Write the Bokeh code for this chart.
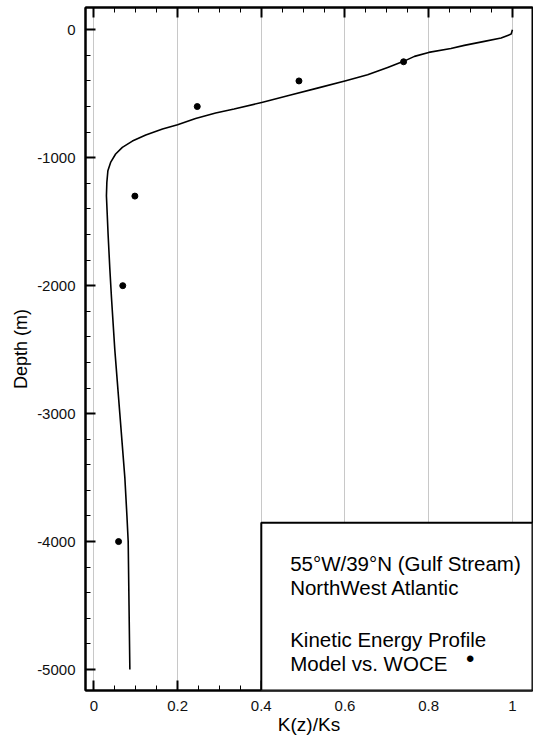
from bokeh.plotting import figure
from bokeh.models import (ColumnDataSource, LinearAxis, SingleIntervalTicker,
                          NumeralTickFormatter, BoxAnnotation, Label, Range1d,
                          CustomLabelingPolicy)
from bokeh.embed import file_html
from bokeh.resources import INLINE

# Model kinetic energy profile, normalised by the surface value
model_depth = [0, -34, -65, -91, -122, -146, -177, -208, -247, -294, -352, -398,
               -456, -510, -568, -620, -651, -693, -742, -776, -823, -870,
               -919, -971, -1037, -1102, -1193, -1297, -1600, -1860, -2090,
               -2500, -3000, -3500, -3800, -4000, -4500, -5000]
model_k = [1.0, 0.997, 0.973, 0.933, 0.885, 0.853, 0.80, 0.766, 0.74, 0.702,
           0.654, 0.602, 0.534, 0.47, 0.401, 0.335, 0.291, 0.243, 0.2, 0.164,
           0.124, 0.092, 0.068, 0.052, 0.040, 0.0335, 0.031, 0.030, 0.034,
           0.038, 0.042, 0.05, 0.062, 0.074, 0.079, 0.082, 0.084, 0.086]

# WOCE observations
woce_depth = [-250, -400, -600, -1300, -2000, -4000]
woce_k = [0.74, 0.49, 0.247, 0.098, 0.069, 0.059]

legend_lines = ["55°W/39°N (Gulf Stream)", "NorthWest Atlantic",
                "Kinetic Energy Profile", "Model vs. WOCE"]

FONT = "Liberation Sans"

xticker = SingleIntervalTicker(interval=0.2, num_minor_ticks=4)
yticker = SingleIntervalTicker(interval=1000, num_minor_ticks=5)

p = figure(width=533, height=745, output_backend="svg", toolbar_location=None,
           x_range=Range1d(-0.02, 1.048), y_range=Range1d(-5164, 174),
           x_axis_location=None, y_axis_location=None,
           min_border_left=85, min_border_right=1, min_border_top=7,
           min_border_bottom=55, background_fill_color="white",
           border_fill_color="white")

p.outline_line_color = "black"
p.outline_line_width = 2

bottom_axis = LinearAxis(ticker=xticker, axis_label="K(z)/Ks",
                         formatter=NumeralTickFormatter(format="0.[0]"))
left_axis = LinearAxis(ticker=yticker, axis_label="Depth (m)",
                       formatter=NumeralTickFormatter(format="0"))

# top axis carries tick marks only: the labeling policy drops every label
no_labels = CustomLabelingPolicy(code="""
    const all = [...indices]
    for (const i of all) indices.unset(i)
    return indices
""")
top_axis = LinearAxis(ticker=xticker, major_label_policy=no_labels,
                      major_label_standoff=0,
                      major_label_text_font_size="1px")
p.add_layout(bottom_axis, "below")
p.add_layout(left_axis, "left")
p.add_layout(top_axis, "above")

for ax in [bottom_axis, left_axis, top_axis]:
    ax.axis_line_color = "black"
    ax.axis_line_width = 2
    ax.major_tick_in = 10
    ax.major_tick_out = 0
    ax.minor_tick_in = 5
    ax.minor_tick_out = 0
    ax.major_tick_line_width = 2
    ax.minor_tick_line_width = 1
    ax.major_tick_line_color = "black"
    ax.minor_tick_line_color = "black"

for ax in [bottom_axis, left_axis]:
    ax.major_label_text_font = FONT
    ax.major_label_text_font_size = "15px"
    ax.major_label_text_color = "#111111"
    ax.major_label_standoff = 10
    ax.axis_label_text_font = FONT
    ax.axis_label_text_font_style = "normal"
    ax.axis_label_text_color = "black"

bottom_axis.axis_label_text_font_size = "19px"
left_axis.axis_label_text_font_size = "18px"
bottom_axis.axis_label_standoff = 0
left_axis.axis_label_standoff = 3

p.xgrid.ticker = xticker
p.xgrid.grid_line_color = "#c8c8c8"
p.xgrid.grid_line_width = 1
p.ygrid.grid_line_color = None

model_src = ColumnDataSource(dict(k=model_k, depth=model_depth))
woce_src = ColumnDataSource(dict(k=woce_k, depth=woce_depth))

p.line("k", "depth", source=model_src, line_color="black", line_width=1.6,
       line_join="round")
p.scatter("k", "depth", source=woce_src, size=6, color="black")

# Legend panel in the lower right corner
p.add_layout(BoxAnnotation(left=0.4, top=-3852, fill_color="white",
                           fill_alpha=1.0, line_color="black", line_width=2,
                           line_alpha=1.0))

text_x = 0.469
baselines = [-4170, -4362, -4768, -4955]
for txt, yb in zip(legend_lines, baselines):
    p.add_layout(Label(x=text_x, y=yb, text=txt, text_font=FONT,
                       text_font_size="20.5px", text_color="black",
                       text_baseline="alphabetic", text_align="left"))

p.add_layout(Label(x=0.899, y=-4916, text="•", text_font=FONT,
                   text_font_size="24px", text_color="black",
                   text_baseline="middle", text_align="center"))

open("out.html", "w").write(file_html(p, INLINE))
